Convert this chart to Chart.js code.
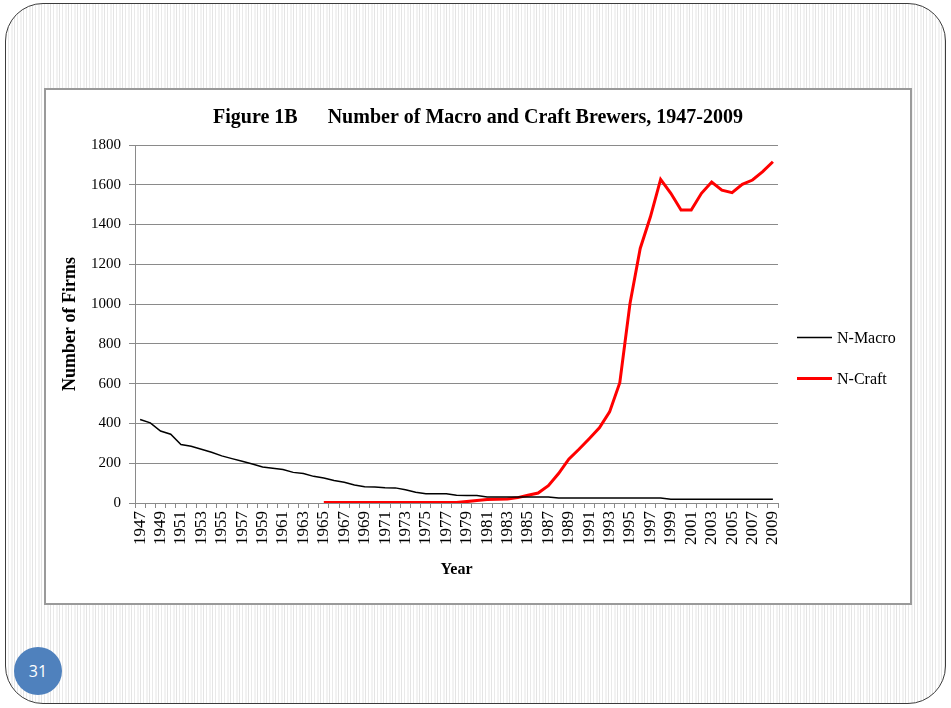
<!DOCTYPE html>
<html>
<head>
<meta charset="utf-8">
<script src="https://cdn.jsdelivr.net/npm/chart.js@4/dist/chart.umd.min.js"></script>
<style>
  html, body { margin: 0; padding: 0; background: #ffffff; }
  body { width: 951px; height: 708px; position: relative; overflow: hidden; }
  .slide {
    position: absolute; left: 5px; top: 3px; width: 941px; height: 701px;
    box-sizing: border-box; border: 1.5px solid #3c3c3c; border-radius: 38px;
    background: repeating-linear-gradient(to right,
      #ffffff 0px, #ffffff 2px, #e9e9e9 2px, #e9e9e9 3px,
      #ffffff 3px, #ffffff 5px, #f2f2f2 5px, #f2f2f2 7px,
      #ffffff 7px, #ffffff 8px, #e4e4e4 8px, #e4e4e4 9px);
  }
  .frame {
    position: absolute; left: 44px; top: 88px; width: 868px; height: 517px;
    box-sizing: border-box; border: 2px solid #9a9a9a; background: #ffffff;
  }
  #chartWrap { position: absolute; left: 46px; top: 90px; width: 864px; height: 513px; }
  .pagenum {
    position: absolute; left: 14px; top: 647px; width: 48px; height: 48px;
    border-radius: 50%; background: #4f81bd; color: #ffffff;
    font: 16px "Open Sans", "DejaVu Sans", sans-serif;
    display: flex; align-items: center; justify-content: center;
  }
</style>
</head>
<body>
<div class="slide"></div>
<div class="frame"></div>
<div id="chartWrap"><canvas id="c" width="864" height="513"></canvas></div>
<div class="pagenum">31</div>
<script>
// Brewery counts by year
const years = [];
for (let y = 1947; y <= 2009; y++) years.push(String(y));

const macroFirms = [
  420, 403, 362, 346, 294, 285, 270, 255, 237, 223,   // 1947-1956
  210, 196, 181, 175, 168, 154, 148, 134, 126, 113,   // 1957-1966
  104, 91, 82, 80, 77, 76, 67, 54, 47, 47,            // 1967-1976
  46, 39, 38, 38, 30, 30, 30, 30, 30, 30,             // 1977-1986
  30, 25, 25, 25, 25, 25, 25, 25, 25, 25,             // 1987-1996
  25, 25, 19, 19, 19, 19, 19, 19, 19, 19,             // 1997-2006
  19, 19, 19                                          // 2007-2009
];

const craftFirms = [
  null, null, null, null, null, null, null, null, null, null, // 1947-1956
  null, null, null, null, null, null, null, null, 2, 2,       // 1957-1966
  2, 2, 2, 2, 2, 2, 2, 2, 2, 2,                               // 1967-1976
  2, 2, 7, 12, 17, 19, 20, 27, 39, 50,                        // 1977-1986
  87, 148, 220, 270, 323, 378, 458, 605, 1003, 1280,          // 1987-1996
  1439, 1627, 1557, 1473, 1473, 1557, 1614, 1573, 1560, 1602, // 1997-2006
  1624, 1666, 1716                                            // 2007-2009
];

const yTicks = [0, 200, 400, 600, 800, 1000, 1200, 1400, 1600, 1800];

const serif = '"Liberation Serif", "Times New Roman", serif';
const axisGray = '#8a8a8a';

// Legend drawn to the right of the plot: short line swatch + label
const sideLegend = {
  id: 'sideLegend',
  afterDraw(chart) {
    const ctx = chart.ctx;
    const rows = [247.5, 288.5];
    ctx.save();
    ctx.font = '16px ' + serif;
    ctx.textBaseline = 'middle';
    ctx.textAlign = 'left';
    chart.data.datasets.forEach((ds, i) => {
      const y = rows[i];
      ctx.strokeStyle = ds.borderColor;
      ctx.lineWidth = ds.legendLineWidth;
      ctx.beginPath();
      ctx.moveTo(751, y);
      ctx.lineTo(786, y);
      ctx.stroke();
      ctx.fillStyle = '#000000';
      ctx.fillText(ds.label, 791, y + 1);
    });
    ctx.restore();
  }
};

new Chart(document.getElementById('c'), {
  type: 'line',
  data: {
    labels: years,
    datasets: [
      {
        label: 'N-Macro',
        data: macroFirms,
        borderColor: '#000000',
        backgroundColor: '#000000',
        borderWidth: 1.5,
        legendLineWidth: 1.5,
        pointRadius: 0,
        tension: 0,
        spanGaps: false
      },
      {
        label: 'N-Craft',
        data: craftFirms,
        borderColor: '#ff0000',
        backgroundColor: '#ff0000',
        borderWidth: 3,
        legendLineWidth: 3,
        pointRadius: 0,
        tension: 0,
        spanGaps: false
      }
    ]
  },
  options: {
    responsive: false,
    animation: false,
    layout: { padding: 0 },
    plugins: {
      legend: { display: false },
      tooltip: { enabled: false },
      title: {
        display: true,
        text: 'Figure 1B      Number of Macro and Craft Brewers, 1947-2009',
        color: '#000000',
        font: { family: serif, size: 20, weight: 'bold' },
        padding: { top: 16, bottom: 15 }
      }
    },
    scales: {
      x: {
        type: 'category',
        offset: true,
        afterFit(scale) { scale.height = 100; },
        grid: {
          display: true,
          offset: true,
          drawOnChartArea: false,
          drawTicks: true,
          tickLength: 5,
          color: axisGray,
          lineWidth: 1
        },
        border: { display: true, color: axisGray, width: 1 },
        ticks: {
          autoSkip: false,
          minRotation: 90,
          maxRotation: 90,
          padding: 3,
          color: '#000000',
          font: { family: serif, size: 17 },
          callback(value, index) { return index % 2 === 0 ? years[index] : ''; }
        },
        title: {
          display: true,
          text: 'Year',
          color: '#000000',
          font: { family: serif, size: 16, weight: 'bold' },
          padding: { top: 0, bottom: 24 }
        }
      },
      y: {
        min: yTicks[0],
        max: yTicks[yTicks.length - 1],
        afterFit(scale) { scale.width = 89; },
        afterBuildTicks(scale) { scale.ticks = yTicks.map(v => ({ value: v })); },
        grid: {
          color: axisGray,
          lineWidth: 1,
          tickLength: 6
        },
        border: { display: true, color: axisGray, width: 1 },
        ticks: {
          padding: 8,
          color: '#000000',
          font: { family: serif, size: 15 },
          callback(value) { return String(value); }
        },
        title: {
          display: true,
          text: 'Number of Firms',
          color: '#000000',
          font: { family: serif, size: 18, weight: 'bold' },
          padding: { top: 14, bottom: 0 }
        }
      },
      // empty right-hand axis that reserves the legend column
      legendSpace: {
        type: 'linear',
        position: 'right',
        afterFit(scale) { scale.width = 132; },
        grid: { display: false, drawOnChartArea: false },
        border: { display: false },
        ticks: { display: false }
      }
    }
  },
  plugins: [sideLegend]
});
</script>
</body>
</html>
